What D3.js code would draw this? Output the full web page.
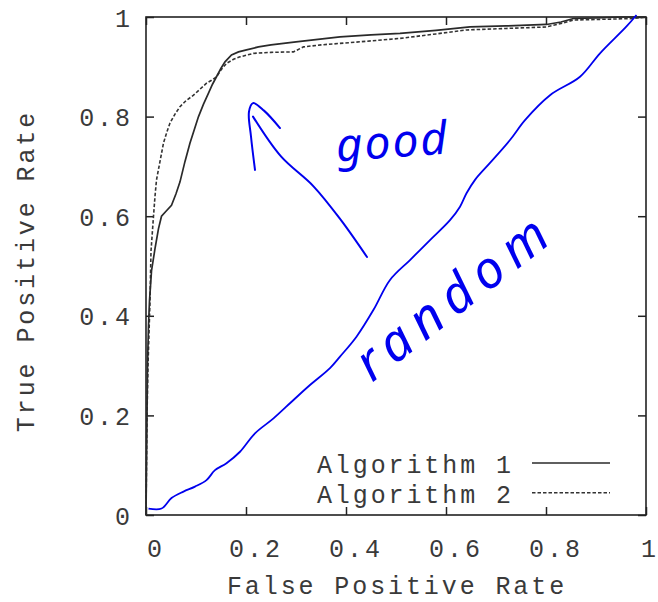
<!DOCTYPE html>
<html><head><meta charset="utf-8">
<script src="https://cdn.jsdelivr.net/npm/d3@7"></script>
<style>
html,body{margin:0;padding:0;background:#fff;}
svg{display:block;}
.mono{font-family:"Liberation Mono","Courier New",monospace;font-size:25px;letter-spacing:2.9px;fill:#3a3a3a;}
</style>
</head><body>
<svg id="c" width="658" height="602"></svg>
<script>
// ---- data ----
const seriesNames = ["Algorithm 1", "Algorithm 2"];
const alg1FPR = [0,0.001,0.002,0.003,0.005,0.007,0.011,0.018,0.025,0.031,0.04,0.051,0.06,0.068,0.078,0.088,0.097,0.105,0.115,0.125,0.133,0.141,0.15,0.158,0.171,0.185,0.201,0.225,0.25,0.275,0.3,0.335,0.388,0.45,0.508,0.58,0.648,0.72,0.801,0.83,0.855,0.9,0.95,1];
const alg1TPR = [0,0.1,0.2,0.3,0.38,0.43,0.49,0.535,0.575,0.6,0.61,0.622,0.645,0.669,0.71,0.747,0.775,0.8,0.825,0.847,0.865,0.88,0.897,0.91,0.924,0.93,0.934,0.94,0.944,0.947,0.95,0.954,0.96,0.964,0.967,0.973,0.98,0.982,0.985,0.99,0.997,0.998,1,1];
const alg2FPR = [0,0.001,0.002,0.004,0.008,0.01,0.015,0.018,0.021,0.028,0.035,0.042,0.048,0.058,0.068,0.08,0.095,0.108,0.121,0.131,0.141,0.151,0.161,0.175,0.188,0.215,0.25,0.295,0.315,0.35,0.388,0.45,0.508,0.58,0.641,0.72,0.801,0.83,0.855,0.9,0.975,1];
const alg2TPR = [0,0.1,0.2,0.3,0.43,0.53,0.6,0.64,0.673,0.71,0.747,0.77,0.787,0.805,0.82,0.832,0.843,0.855,0.867,0.873,0.88,0.895,0.907,0.915,0.92,0.927,0.929,0.93,0.94,0.944,0.947,0.952,0.957,0.966,0.974,0.977,0.98,0.987,0.994,0.995,0.997,1];
const randomFPR = [0.005,0.031,0.051,0.075,0.098,0.121,0.138,0.161,0.188,0.218,0.255,0.295,0.328,0.368,0.388,0.421,0.455,0.488,0.528,0.568,0.608,0.628,0.641,0.658,0.688,0.728,0.758,0.808,0.868,0.908,0.961,0.981];
const randomTPR = [0.013,0.013,0.034,0.047,0.057,0.070,0.090,0.104,0.127,0.164,0.194,0.231,0.261,0.295,0.318,0.358,0.412,0.472,0.512,0.552,0.592,0.619,0.646,0.673,0.707,0.753,0.793,0.843,0.880,0.927,0.981,1.004];
const xTicks = [0,0.2,0.4,0.6,0.8,1];
const yTicks = [0,0.2,0.4,0.6,0.8,1];
const xTitle = "False Positive Rate";
const yTitle = "True Positive Rate";
const noteGood = "good";
const noteRandom = "random";
// arrow annotation in data units [fpr, tpr]
const arrowShaft = [[0.442,0.518],[0.39,0.592],[0.335,0.66],[0.27,0.72],[0.214,0.8]];
const arrowHead = [[0.218,0.693],[0.21,0.76],[0.206,0.81],[0.214,0.827],[0.236,0.812],[0.268,0.777]];

const svg = d3.select("#c");
const L = 146, R = 646, T = 17, B = 515;
const x = d3.scaleLinear().domain([0,1]).range([L,R]);
const y = d3.scaleLinear().domain([0,1]).range([B,T]);
const fmt = d => d===0 ? "0" : d===1 ? "1" : d3.format(".1f")(d);

// inward tick marks on all four sides
function ticksOnly(axis, tr){
  const g = svg.append("g").attr("transform", tr).call(axis.tickFormat("").tickSizeOuter(0));
  g.select(".domain").remove();
  g.selectAll(".tick line").attr("stroke","#222").attr("stroke-width",1.5);
  g.selectAll("text").remove();
}
ticksOnly(d3.axisBottom(x).tickValues(xTicks).tickSize(-8), `translate(0,${B})`);
ticksOnly(d3.axisTop(x).tickValues(xTicks).tickSize(-8), `translate(0,${T})`);
ticksOnly(d3.axisLeft(y).tickValues(yTicks).tickSize(-8), `translate(${L},0)`);
ticksOnly(d3.axisRight(y).tickValues(yTicks).tickSize(-8), `translate(${R},0)`);

// tick labels via axes
const gx = svg.append("g").attr("transform", `translate(8,${B})`)
  .call(d3.axisBottom(x).tickValues(xTicks).tickSize(0).tickPadding(24).tickFormat(fmt));
gx.select(".domain").remove();
gx.selectAll("text").attr("class","mono").attr("fill",null).attr("font-size",null).attr("font-family",null)
  .attr("dx", d => d===1 ? "-4.5px" : "1.45px");
const gy = svg.append("g").attr("transform", `translate(${L},0)`)
  .call(d3.axisLeft(y).tickValues(yTicks).tickSize(0).tickPadding(16).tickFormat(fmt));
gy.select(".domain").remove();
gy.selectAll("text").attr("class","mono").attr("fill",null).attr("font-size",null).attr("font-family",null).attr("dx","2.9px").attr("dy","0.36em");

// frame
svg.append("rect").attr("x",L).attr("y",T).attr("width",R-L).attr("height",B-T)
  .attr("fill","none").attr("stroke","#222").attr("stroke-width",1.6);

// curves
const line = d3.line().x(d=>x(d[0])).y(d=>y(d[1]));
const smooth = d3.line().x(d=>x(d[0])).y(d=>y(d[1])).curve(d3.curveCatmullRom.alpha(0.5));
const a1 = alg1FPR.map((f,i)=>[f,alg1TPR[i]]);
const a2 = alg2FPR.map((f,i)=>[f,alg2TPR[i]]);
const rnd = randomFPR.map((f,i)=>[f,randomTPR[i]]);
svg.append("path").attr("d",line(a2)).attr("fill","none").attr("stroke","#333").attr("stroke-width",1.6).attr("stroke-dasharray","3.5,2");
svg.append("path").attr("d",line(a1)).attr("fill","none").attr("stroke","#2a2a2a").attr("stroke-width",1.7);
svg.append("path").attr("d",smooth(rnd)).attr("fill","none").attr("stroke","#0000ee").attr("stroke-width",1.8);

// hand-drawn annotation
svg.append("path").attr("d",smooth(arrowShaft)).attr("fill","none").attr("stroke","#0000ee").attr("stroke-width",2).attr("stroke-linecap","round");
svg.append("path").attr("d",smooth(arrowHead)).attr("fill","none").attr("stroke","#0000ee").attr("stroke-width",2).attr("stroke-linecap","round");
svg.append("text").attr("x",x(0.382)).attr("y",y(0.71)).attr("transform",`rotate(-4,${x(0.382)},${y(0.71)})`)
  .attr("font-family","'Noto Sans', sans-serif").attr("font-style","italic").attr("font-size",46).attr("letter-spacing","2px")
  .attr("fill","#0000ee").text(noteGood);
svg.append("text").attr("x",x(0.452)).attr("y",y(0.265)).attr("transform",`rotate(-38,${x(0.452)},${y(0.265)})`)
  .attr("font-family","'Noto Sans', sans-serif").attr("font-style","italic").attr("font-size",52).attr("letter-spacing","9px")
  .attr("fill","#0000ee").text(noteRandom);

// legend
const leg = svg.append("g");
seriesNames.forEach((n,i)=>{
  const yy = 473 + i*29.7;
  leg.append("text").attr("class","mono").attr("x",511+2.9).attr("y",yy).attr("text-anchor","end").text(n);
  leg.append("line").attr("x1",532).attr("x2",610).attr("y1",yy-10).attr("y2",yy-10)
    .attr("stroke", i===0 ? "#2a2a2a" : "#333").attr("stroke-width",1.6)
    .attr("stroke-dasharray", i===0 ? null : "3.5,2");
});

// axis titles
svg.append("text").attr("class","mono").attr("x",397).attr("y",594).attr("text-anchor","middle").text(xTitle);
svg.append("text").attr("class","mono").attr("transform","translate(34,271) rotate(-90)").attr("text-anchor","middle").text(yTitle);
</script>
</body></html>
